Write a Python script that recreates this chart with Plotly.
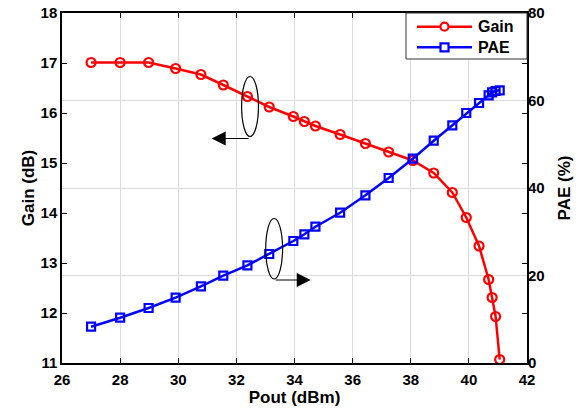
import plotly.graph_objects as go

# Output power sweep (dBm)
pout = [27.0, 28.0, 28.98, 29.91, 30.78, 31.55, 32.38, 33.13, 33.96, 34.34, 34.72,
        35.57, 36.44, 37.24, 38.07, 38.79, 39.43, 39.91, 40.35, 40.68, 40.80, 40.92, 41.06]
# Gain (dB)
gain = [17.01, 17.01, 17.01, 16.89, 16.77, 16.56, 16.33, 16.12, 15.93, 15.83, 15.74,
        15.57, 15.39, 15.22, 15.05, 14.80, 14.41, 13.91, 13.34, 12.67, 12.31, 11.93, 11.07]
# Power-added efficiency (%)
pae = [8.3, 10.35, 12.57, 14.93, 17.53, 19.95, 22.33, 24.91, 27.89, 29.42, 31.15,
       34.35, 38.33, 42.29, 46.7, 50.81, 54.33, 57.14, 59.43, 61.19, 61.87, 62.17, 62.33]

x_ticks = [26, 28, 30, 32, 34, 36, 38, 40, 42]
gain_ticks = [11, 12, 13, 14, 15, 16, 17, 18]
pae_ticks = [0, 20, 40, 60, 80]
series_names = ["Gain", "PAE"]
series_colors = ["#ff0000", "#0000ff"]

FONT = "Liberation Sans, Arial, sans-serif"
GRID = "#dcdcdc"


def bold(vals):
    return ["<b>%g</b>" % v for v in vals]


fig = go.Figure()
fig.add_trace(go.Scatter(
    x=pout, y=gain, name=series_names[0], mode="lines+markers",
    line=dict(color=series_colors[0], width=2.5),
    marker=dict(symbol="circle-open", size=9, color=series_colors[0], line=dict(width=2.2)),
))
fig.add_trace(go.Scatter(
    x=pout, y=pae, name=series_names[1], mode="lines+markers", yaxis="y2",
    line=dict(color=series_colors[1], width=2.5),
    marker=dict(symbol="square-open", size=8, color=series_colors[1], line=dict(width=2.2)),
))

# Ellipses marking which curve belongs to which axis
fig.add_shape(type="circle", xref="x", yref="y", x0=32.18, x1=32.76, y0=15.53, y1=16.73,
              line=dict(color="black", width=1.2))
fig.add_shape(type="circle", xref="x", yref="y", x0=33.01, x1=33.59, y0=12.68, y1=13.89,
              line=dict(color="black", width=1.2))

# Arrows pointing to the respective axes
fig.add_annotation(x=31.15, y=15.49, ax=32.47, ay=15.49, xref="x", yref="y",
                   axref="x", ayref="y", text="", showarrow=True,
                   arrowhead=2, arrowsize=2.8, arrowwidth=1, arrowcolor="black")
fig.add_annotation(x=34.56, y=12.66, ax=33.30, ay=12.66, xref="x", yref="y",
                   axref="x", ayref="y", text="", showarrow=True,
                   arrowhead=2, arrowsize=2.8, arrowwidth=1, arrowcolor="black")

# Legend box in the upper-right corner, with long sample lines
fig.add_shape(type="rect", xref="paper", yref="paper", x0=0.7398, x1=1.0, y0=0.8686, y1=1.0,
              fillcolor="white", line=dict(color="#333333", width=1), layer="above")
rows_y = [0.9609, 0.902]
for name, color, ry, sym in zip(series_names, series_colors, rows_y, ["circle", "rect"]):
    fig.add_shape(type="line", xref="paper", yref="paper", x0=0.7634, x1=0.8817, y0=ry, y1=ry,
                  line=dict(color=color, width=2.5), layer="above")
    fig.add_shape(type=sym, xref="paper", yref="paper", xsizemode="pixel", ysizemode="pixel",
                  xanchor=0.8226, yanchor=ry, x0=-4, x1=4, y0=-4, y1=4,
                  fillcolor="white", line=dict(color=color, width=2.2), layer="above")
    fig.add_annotation(x=0.8903, y=ry, xref="paper", yref="paper", text="<b>%s</b>" % name,
                       showarrow=False, xanchor="left", yanchor="middle",
                       font=dict(family=FONT, size=16, color="black"))

tickfont = dict(family=FONT, size=15, color="black")
titlefont = dict(family=FONT, size=17, color="black")

fig.update_layout(
    width=584, height=412,
    margin=dict(l=62, r=57, t=13, b=49, autoexpand=False),
    paper_bgcolor="white", plot_bgcolor="white",
    showlegend=False,
    xaxis=dict(range=[26, 42], tickvals=x_ticks, ticktext=bold(x_ticks), ticks="inside",
               ticklen=5, tickcolor="black", tickwidth=1, showline=True, linecolor="black",
               linewidth=1.5, mirror="ticks", showgrid=True, gridcolor=GRID,
               gridwidth=1, zeroline=False, tickfont=tickfont, automargin=False,
               ticklabelstandoff=2,
               title=dict(text="<b>Pout (dBm)</b>", font=titlefont, standoff=3)),
    yaxis=dict(range=[11, 18], tickvals=gain_ticks, ticktext=bold(gain_ticks), ticks="inside",
               ticklen=5, tickcolor="black", tickwidth=1, showline=True, linecolor="black",
               linewidth=1.5, mirror="ticks", showgrid=False, zeroline=False,
               tickfont=tickfont, automargin=False,
               title=dict(text="<b>Gain (dB)</b>", font=titlefont, standoff=2)),
    yaxis2=dict(range=[0, 80], tickvals=pae_ticks, ticktext=bold(pae_ticks),
                overlaying="y", side="right", automargin=False,
                ticks="", showline=False, showgrid=True, gridcolor=GRID,
                gridwidth=1, zeroline=False, tickfont=tickfont,
                title=dict(text="<b>PAE (%)</b>", font=titlefont, standoff=14)),
)

fig.write_html("out.html")
